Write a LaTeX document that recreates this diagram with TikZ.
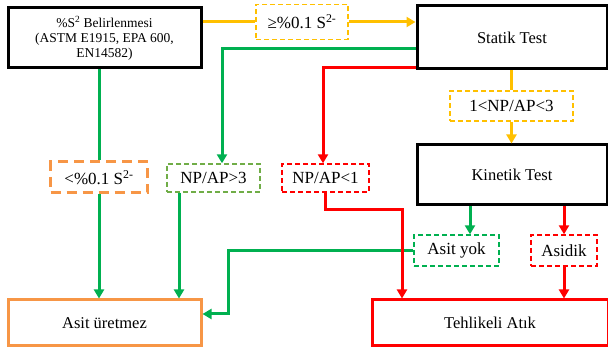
\documentclass[tikz,border=0pt]{standalone}
\usepackage{fontspec}
\setmainfont{Liberation Serif}
\usetikzlibrary{arrows.meta}
\definecolor{yel}{HTML}{FFC000}
\definecolor{grn}{HTML}{00B050}
\definecolor{lgrn}{HTML}{70AD47}
\definecolor{red1}{HTML}{FF0000}
\definecolor{org}{HTML}{F79646}
\begin{document}
\begin{tikzpicture}[x=1pt,y=-1pt,
  box/.style={draw, line width=3pt, inner sep=0pt, align=center, font=\fontsize{16.5}{19}\selectfont},
  lab/.style={draw, dash pattern=on 5pt off 3pt, line width=1.4pt, inner sep=0pt, align=center, font=\fontsize{17}{19}\selectfont},
  con/.style={line width=3pt},
  arr/.style={con, -{Triangle[length=9pt,width=10pt]}},
  ]
\useasboundingbox (0,0) rectangle (608,355);
% boxes
\node[box, minimum width=193pt, minimum height=60pt, font=\fontsize{13.5}{15}\selectfont] (b1) at (104.5,38)
  {\%S\textsuperscript{2} Belirlenmesi\\(ASTM E1915, EPA 600,\\EN14582)};
\node[box, minimum width=190pt, minimum height=63pt] (statik) at (512,37.5) {Statik Test};
\node[box, minimum width=190pt, minimum height=60pt] (kinetik) at (512,175) {Kinetik Test};
\node[box, draw=org, minimum width=193pt, minimum height=46pt] (asitu) at (104.5,323) {Asit üretmez};
\node[box, draw=red1, minimum width=236pt, minimum height=46pt] (tehlike) at (490,323) {Tehlikeli Atık};
% labels
\node[lab, draw=yel, minimum width=92pt, minimum height=35pt] (lab1) at (302,22) {≥\%0.1 S\textsuperscript{2-}};
\node[lab, draw=yel, minimum width=123pt, minimum height=30pt] (lab3) at (511.5,106) {1<NP/AP<3};
\node[lab, draw=org, line width=3pt, dash pattern=on 10pt off 6pt, minimum width=97pt, minimum height=31pt] (labO) at (99,177.5) {<\%0.1 S\textsuperscript{2-}};
\node[lab, draw=lgrn, minimum width=93pt, minimum height=28pt] (labG) at (213.5,178) {NP/AP>3};
\node[lab, draw=red1, minimum width=87pt, minimum height=28pt] (labR) at (325.5,178) {NP/AP<1};
\node[lab, draw=grn, minimum width=85pt, minimum height=31pt] (asityok) at (456.5,250.5) {Asit yok};
\node[lab, draw=red1, minimum width=66pt, minimum height=31pt] (asidik) at (564,250.5) {Asidik};
% coordinates
\coordinate (rbend) at (402,210);
\coordinate (gbend) at (228,314);
% yellow
\draw[con, yel] (b1.east |- lab1.west) -- (lab1.west);
\draw[arr, yel] (lab1.east) -- (statik.west |- lab1.east);
\draw[con, yel] (statik.south -| lab3.north) -- (lab3.north);
\draw[arr, yel] (lab3.south) -- (lab3.south |- kinetik.north);
% green
\draw[arr, grn] ([yshift=-11.5pt]statik.west) -| ([xshift=8.5pt]labG.north);
\draw[con, grn] (b1.south -| labO.north) -- (labO.north);
\draw[arr, grn] (labO.south) -- (labO.south |- asitu.north);
\draw[arr, grn] ([xshift=-34.5pt]labG.south) -- ([xshift=-34.5pt]labG.south |- asitu.north);
\draw[arr, grn] ([xshift=13.5pt]asityok.north |- kinetik.south) -- ([xshift=13.5pt]asityok.north);
\draw[arr, grn] (asityok.west) -| (gbend) -- (gbend -| asitu.east);
% red
\draw[arr, red1] ([yshift=-30pt]statik.west) -| ([xshift=-2.5pt]labR.north);
\draw[arr, red1] (labR.south) |- (rbend) -- (rbend |- tehlike.north);
\draw[arr, red1] (asidik.north |- kinetik.south) -- (asidik.north);
\draw[arr, red1] (asidik.south) -- (asidik.south |- tehlike.north);
\end{tikzpicture}
\end{document}
